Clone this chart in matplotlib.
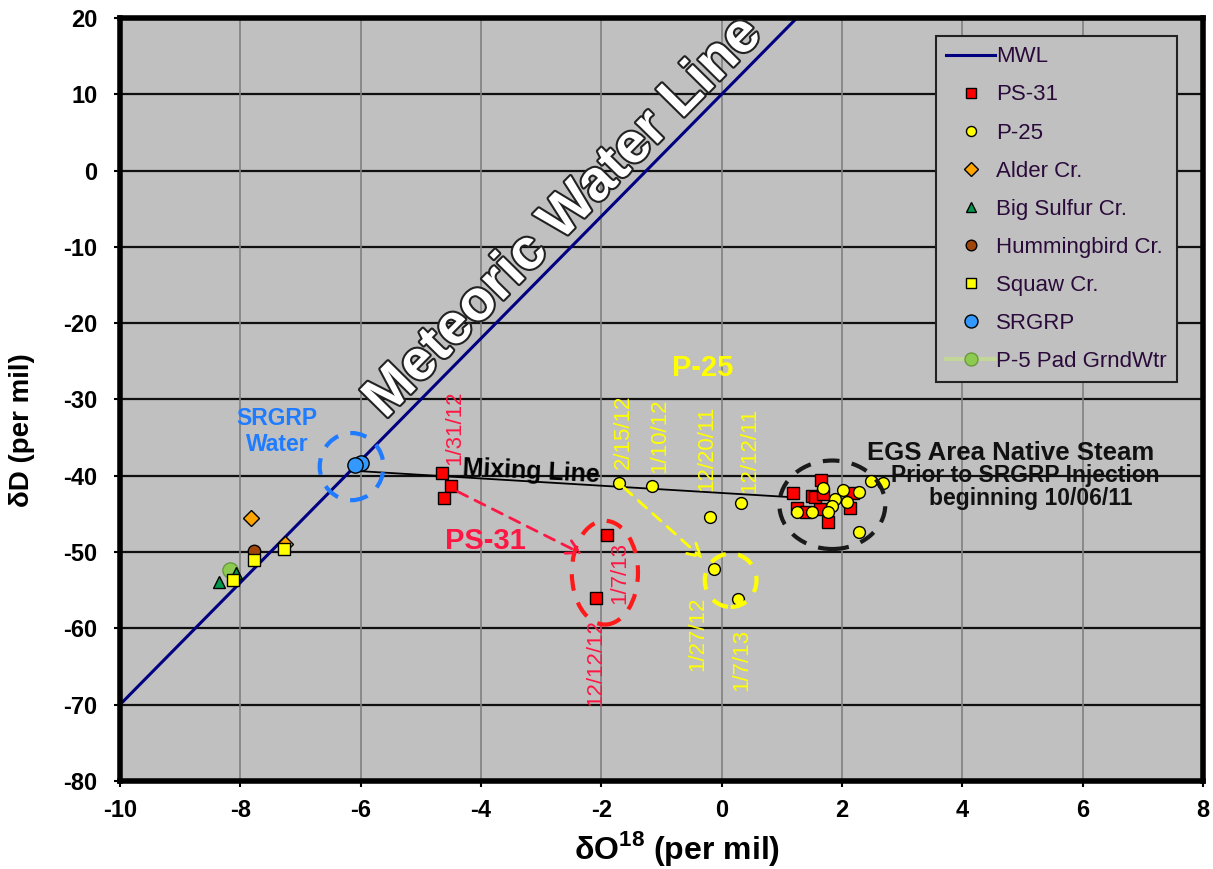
import numpy as np
import matplotlib
matplotlib.use("Agg")
import matplotlib.pyplot as plt
import matplotlib.patheffects as pe
from matplotlib.patches import Ellipse

plt.rcParams['font.family'] = ['Liberation Sans', 'DejaVu Sans']
plt.rcParams['mathtext.fontset'] = 'custom'
plt.rcParams['mathtext.rm'] = 'Liberation Sans'
plt.rcParams['mathtext.bf'] = 'Liberation Sans:bold'
plt.rcParams['axes.unicode_minus'] = False

# meteoric water line (dD = 8*d18O + 10)
mwl_x = [-10, 1.25]
mwl_y = [-70, 20]

# mixing line end points
mix_x = [-6.0, 1.15]
mix_y = [-39.4, -42.8]

ps31_x = [-4.65, -4.50, -4.62, -1.91, -2.09,
          1.66, 1.18, 1.51, 1.26, 1.41, 1.63, 2.13, 1.76, 1.55, 1.68, 2.18]
ps31_y = [-39.7, -41.4, -42.9, -47.7, -56.0,
          -40.5, -42.2, -42.7, -44.2, -44.7, -44.4, -44.2, -46.1, -42.8, -42.4, -42.3]

p25_x = [-1.71, -1.15, -0.20, 0.33, -0.13, 0.28,
         1.68, 2.01, 2.29, 2.49, 2.69, 1.88, 2.09, 1.83, 1.51, 1.26, 1.76, 2.29]
p25_y = [-40.9, -41.3, -45.4, -43.6, -52.2, -56.1,
         -41.6, -41.9, -42.1, -40.7, -41.0, -43.0, -43.4, -44.0, -44.7, -44.8, -44.8, -47.4]

alder_x = [-7.82, -7.26]
alder_y = [-45.5, -48.9]
bigsulfur_x = [-8.36, -8.07]
bigsulfur_y = [-53.9, -52.7]
humming_x = [-7.77]
humming_y = [-49.9]
squaw_x = [-7.77, -7.28, -8.12]
squaw_y = [-51.1, -49.6, -53.7]
srgrp_x = [-6.0, -6.10]
srgrp_y = [-38.3, -38.6]
p5_x = [-8.17]
p5_y = [-52.3]

fig = plt.figure(figsize=(12.13, 8.69), dpi=100)
ax = fig.add_axes([0.0989, 0.1013, 0.8928, 0.878])
ax.set_facecolor('#C0C0C0')
ax.set_xlim(-10, 8)
ax.set_ylim(-80, 20)
ax.set_xticks(np.arange(-10, 9, 2))
ax.set_yticks(np.arange(-80, 21, 10))
for y in np.arange(-70, 20, 10):
    ax.axhline(y, color='#101010', lw=1.6, zorder=0.5)
for x in np.arange(-8, 8, 2):
    ax.axvline(x, color='#808080', lw=1.2, zorder=0.5)
for s in ax.spines.values():
    s.set_linewidth(4)
ax.tick_params(labelsize=17, length=4, width=1.5)
ax.tick_params(axis='y', pad=12)
ax.tick_params(axis='x', pad=9)
for lab in ax.get_xticklabels() + ax.get_yticklabels():
    lab.set_fontweight('bold')
ax.set_xlabel(r'δO$^{\mathbf{18}}$ (per mil)', fontsize=23, fontweight='bold', va='center')
ax.set_ylabel('δD (per mil)', fontsize=20, fontweight='bold', va='center')
ax.xaxis.set_label_coords(0.514, -0.088)
ax.yaxis.set_label_coords(-0.0905, 0.46)

ax.plot(mwl_x, mwl_y, color='#000080', lw=2.2, label='MWL', zorder=2)
ax.plot(mix_x, mix_y, color='black', lw=1.3, zorder=2)

ms = dict(markeredgecolor='black', markeredgewidth=1, linestyle='none', zorder=4)
ax.plot(ps31_x, ps31_y, 's', color='#FF0000', markersize=9, label='PS-31', **ms)
ax.plot(p25_x, p25_y, 'o', color='#FFFF00', markersize=8.5, label='P-25', **ms)
ax.plot(alder_x, alder_y, 'D', color='#FFA500', markersize=8, label='Alder Cr.', **ms)
ax.plot(bigsulfur_x, bigsulfur_y, '^', color='#00994C', markersize=8, label='Big Sulfur Cr.', **ms)
ax.plot(humming_x, humming_y, 'o', color='#A0460A', markersize=9, label='Hummingbird Cr.', **ms)
ax.plot(squaw_x, squaw_y, 's', color='#FFFF00', markersize=8, label='Squaw Cr.', **ms)
ax.plot(srgrp_x, srgrp_y, 'o', color='#3399FF', markersize=11, label='SRGRP', **ms)
ax.plot(p5_x, p5_y, 'o', color='#C4D79B', markerfacecolor='#8CCB50', markersize=11,
        markeredgecolor='#6a9a40', markeredgewidth=1, linestyle='-', lw=3,
        label='P-5 Pad GrndWtr', zorder=3)

# dashed ellipses
ell_kw = dict(fill=False, lw=3, linestyle=(0, (4, 3)), zorder=5)
ax.add_patch(Ellipse((-6.15, -38.8), 1.06, 8.8, edgecolor='#1F7BFF', **ell_kw))
ax.add_patch(Ellipse((-1.94, -52.7), 1.10, 13.6, edgecolor='#FF1A1A', **ell_kw))
ax.add_patch(Ellipse((0.15, -53.7), 0.86, 7.0, edgecolor='#FFFF00', **ell_kw))
ax.add_patch(Ellipse((1.84, -43.8), 1.76, 11.6, edgecolor='#1a1a1a', **ell_kw))

# arrows
ax.annotate('', xy=(-2.28, -50.4), xytext=(-4.43, -41.9),
            arrowprops=dict(arrowstyle='->,head_length=0.9,head_width=0.5', color='#FF1744',
                            lw=2, linestyle=(0, (4, 3))), zorder=5)
ax.annotate('', xy=(-0.28, -51.1), xytext=(-1.66, -41.3),
            arrowprops=dict(arrowstyle='->,head_length=0.9,head_width=0.5', color='#FFFF00',
                            lw=2, linestyle=(0, (4, 3))), zorder=5)

# text labels
ax.text(-2.62, -6.1, 'Meteoric Water Line', fontsize=41, fontweight='bold', color='white',
        rotation=45.4, ha='center', va='center', zorder=6,
        path_effects=[pe.Stroke(linewidth=3, foreground='#222222'), pe.Normal()])
ax.text(-7.39, -34.2, 'SRGRP\nWater', fontsize=16.5, fontweight='bold', color='#1F7BFF',
        ha='center', va='center', linespacing=1.15)
ax.text(-3.16, -39.5, 'Mixing Line', fontsize=18, fontweight='bold', color='black',
        rotation=-3, ha='center', va='center', zorder=6)
ax.text(-3.92, -48.5, 'PS-31', fontsize=21, fontweight='bold', color='#FF1744',
        ha='center', va='center')
ax.text(-0.32, -25.9, 'P-25', fontsize=21, fontweight='bold', color='#FFFF00',
        ha='center', va='center')
ax.text(4.80, -37.0, 'EGS Area Native Steam', fontsize=18.5, fontweight='bold',
        color='#111111', ha='center', va='center', zorder=6)
ax.text(5.05, -40.0, 'Prior to SRGRP Injection', fontsize=16.5, fontweight='bold',
        color='#111111', ha='center', va='center', zorder=6)
ax.text(5.13, -43.0, 'beginning 10/06/11', fontsize=16.5, fontweight='bold',
        color='#111111', ha='center', va='center', zorder=6)

date_kw = dict(fontsize=16, rotation=90, ha='center', va='bottom', zorder=6)
ax.text(-4.43, -38.6, '1/31/12', color='#FF1744', **date_kw)
ax.text(-1.70, -56.8, '1/7/13', color='#FF1744', **date_kw)
ax.text(-2.10, -70.2, '12/12/12', color='#FF1744', **date_kw)
ax.text(-1.64, -39.1, '2/15/12', color='#FFFF00', **date_kw)
ax.text(-1.03, -39.6, '1/10/12', color='#FFFF00', **date_kw)
ax.text(-0.25, -42.0, '12/20/11', color='#FFFF00', **date_kw)
ax.text(0.47, -42.2, '12/12/11', color='#FFFF00', **date_kw)
ax.text(-0.40, -65.6, '1/27/12', color='#FFFF00', **date_kw)
ax.text(0.33, -68.2, '1/7/13', color='#FFFF00', **date_kw)

leg = ax.legend(loc='upper right', bbox_to_anchor=(0.976, 0.976), fontsize=16,
                labelspacing=0.77, handlelength=2.2, handletextpad=0.05, borderpad=0.45,
                borderaxespad=0, markerscale=0.85, fancybox=False, framealpha=1,
                facecolor='#C0C0C0', edgecolor='#222222')
leg.get_frame().set_linewidth(1.5)
for t in leg.get_texts():
    t.set_color('#2a0a3a')

fig.savefig('out.png', dpi=100)
